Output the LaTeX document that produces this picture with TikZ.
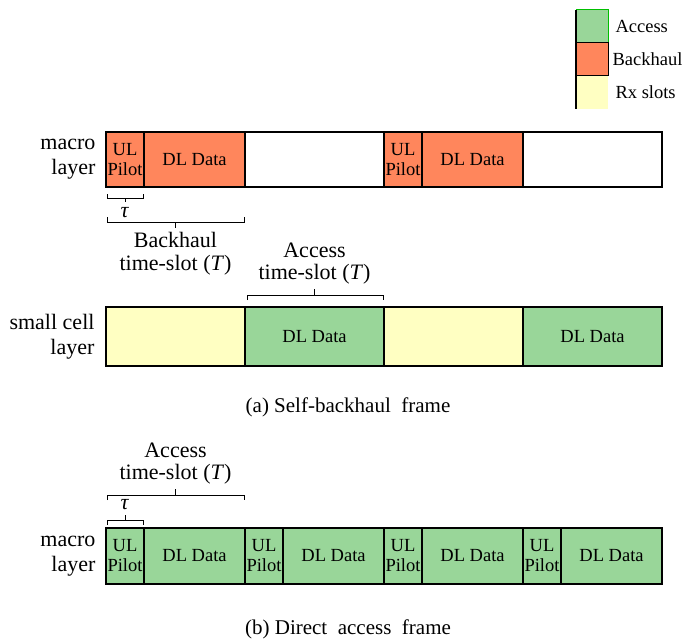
\documentclass[tikz,border=0pt]{standalone}
\usepackage{fontspec}
\setmainfont{Liberation Serif}
\usetikzlibrary{positioning,calc}
\definecolor{accgreen}{RGB}{153,214,153}
\definecolor{bhorange}{RGB}{255,134,92}
\definecolor{rxyellow}{RGB}{255,255,194}
\tikzset{
slot/.style={draw,line width=1.2pt,inner sep=0pt,outer sep=0pt,align=center,
  font=\fontsize{18.5}{20}\selectfont},
pilot/.style={slot,minimum width=38pt},
data/.style={slot,minimum width=101pt},
wide/.style={slot,minimum width=139pt},
frame/.style={line width=2pt},
brk/.style={line width=0.9pt},
lbl/.style={align=right,font=\fontsize{22}{25}\selectfont},
slotlbl/.style={align=center,font=\fontsize{22}{22.5}\selectfont},
legbox/.style={inner sep=0pt,outer sep=0pt,minimum width=32pt,minimum height=33pt},
legtext/.style={font=\fontsize{18.5}{20}\selectfont},
caption/.style={font=\fontsize{21}{24}\selectfont}
}

\begin{document}
\begin{tikzpicture}[x=1pt,y=-1pt]
\useasboundingbox (0,0) rectangle (697,642);
% legend
\node[legbox,fill=accgreen,draw=green!75!black,line width=1pt] (lacc) at (592,26.5) {};
\node[legbox,fill=bhorange,draw=black,line width=1pt,below=0pt of lacc] (lbh) {};
\node[legbox,fill=rxyellow,below=0pt of lbh] (lrx) {};
\draw[line width=1.2pt] (lacc.north west) -- (lrx.south west);
\node[legtext,anchor=west,right=4pt of lacc] {Access};
\node[legtext,anchor=west,right=1pt of lbh] {Backhaul};
\node[legtext,anchor=west,right=4pt of lrx] {Rx slots};

% (a) macro layer
\node[pilot,fill=bhorange,minimum height=55pt,anchor=north west] (mp1) at (106,132) {UL\\Pilot};
\node[data,fill=bhorange,minimum height=55pt,right=0pt of mp1] (md1) {DL Data};
\node[wide,fill=white,minimum height=55pt,right=0pt of md1] (mw1) {};
\node[pilot,fill=bhorange,minimum height=55pt,right=0pt of mw1] (mp2) {UL\\Pilot};
\node[data,fill=bhorange,minimum height=55pt,right=0pt of mp2] (md2) {DL Data};
\node[wide,fill=white,minimum height=55pt,right=0pt of md2] (mw2) {};
\draw[frame] (mp1.north west) rectangle (mw2.south east);
\node[lbl,left=7pt of mp1] (mlbl) {macro\\layer};

\draw[brk] ($(mp1.south west)+(1,7)$) -- ++(0,4) -| ($(mp1.south east)+(-1,7)$);
\draw[brk] ($(mp1.south)+(0,11)$) -- ++(0,4);
\node[slotlbl] (tau1) at ($(mp1.south)+(0,26)$) {\textit{τ}};
\draw[brk] ($(mp1.south west)+(1,30)$) -- ++(0,5) -| ($(md1.south east)+(-1,30)$);
\draw[brk] ($(mp1.south west)!0.5!(md1.south east)+(0,35)$) -- ++(0,6);
\node[slotlbl,anchor=north] (bhslot) at ($(mp1.south west)!0.5!(md1.south east)+(0,42)$) {Backhaul\\time-slot (\textit{T})};

% (a) small cell layer
\node[wide,fill=rxyellow,minimum height=59pt,anchor=north west] (sr1) at (106,307) {};
\node[wide,fill=accgreen,minimum height=59pt,right=0pt of sr1] (sa1) {DL Data};
\node[wide,fill=rxyellow,minimum height=59pt,right=0pt of sa1] (sr2) {};
\node[wide,fill=accgreen,minimum height=59pt,right=0pt of sr2] (sa2) {DL Data};
\draw[frame] (sr1.north west) rectangle (sa2.south east);
\node[lbl,left=8pt of sr1] (slbl) {small cell\\layer};

\draw[brk] ($(sa1.north west)+(2,-7)$) -- ++(0,-5) -| ($(sa1.north east)+(-1,-7)$);
\draw[brk] ($(sa1.north)+(0,-12)$) -- ++(0,-6);
\node[slotlbl,anchor=south] (acslot1) at ($(sa1.north)+(0,-19)$) {Access\\time-slot (\textit{T})};

\node[caption] (capa) at (348,407) {(a)~Self-backhaul~~frame};

% (b) direct access
\node[pilot,fill=accgreen,minimum height=56pt,anchor=north west] (dp1) at (106,528) {UL\\Pilot};
\node[data,fill=accgreen,minimum height=56pt,right=0pt of dp1] (dd1) {DL Data};
\node[pilot,fill=accgreen,minimum height=56pt,right=0pt of dd1] (dp2) {UL\\Pilot};
\node[data,fill=accgreen,minimum height=56pt,right=0pt of dp2] (dd2) {DL Data};
\node[pilot,fill=accgreen,minimum height=56pt,right=0pt of dd2] (dp3) {UL\\Pilot};
\node[data,fill=accgreen,minimum height=56pt,right=0pt of dp3] (dd3) {DL Data};
\node[pilot,fill=accgreen,minimum height=56pt,right=0pt of dd3] (dp4) {UL\\Pilot};
\node[data,fill=accgreen,minimum height=56pt,right=0pt of dp4] (dd4) {DL Data};
\draw[frame] (dp1.north west) rectangle (dd4.south east);
\node[lbl,left=7pt of dp1] (dlbl) {macro\\layer};

\draw[brk] ($(dp1.north west)+(1,-3)$) -- ++(0,-5) -| ($(dp1.north east)+(-1,-3)$);
\draw[brk] ($(dp1.north)+(0,-8)$) -- ++(0,-5);
\node[slotlbl] (tau2) at ($(dp1.north)+(0,-23)$) {\textit{τ}};
\draw[brk] ($(dp1.north west)+(1,-28)$) -- ++(0,-5) -| ($(dd1.north east)+(-1,-28)$);
\draw[brk] ($(dp1.north west)!0.5!(dd1.north east)+(0,-33)$) -- ++(0,-6);
\node[slotlbl,anchor=south] (acslot2) at ($(dp1.north west)!0.5!(dd1.north east)+(0,-40)$) {Access\\time-slot (\textit{T})};

\node[caption] (capb) at (348,629) {(b)~Direct~~access~~frame};
\end{tikzpicture}
\end{document}
